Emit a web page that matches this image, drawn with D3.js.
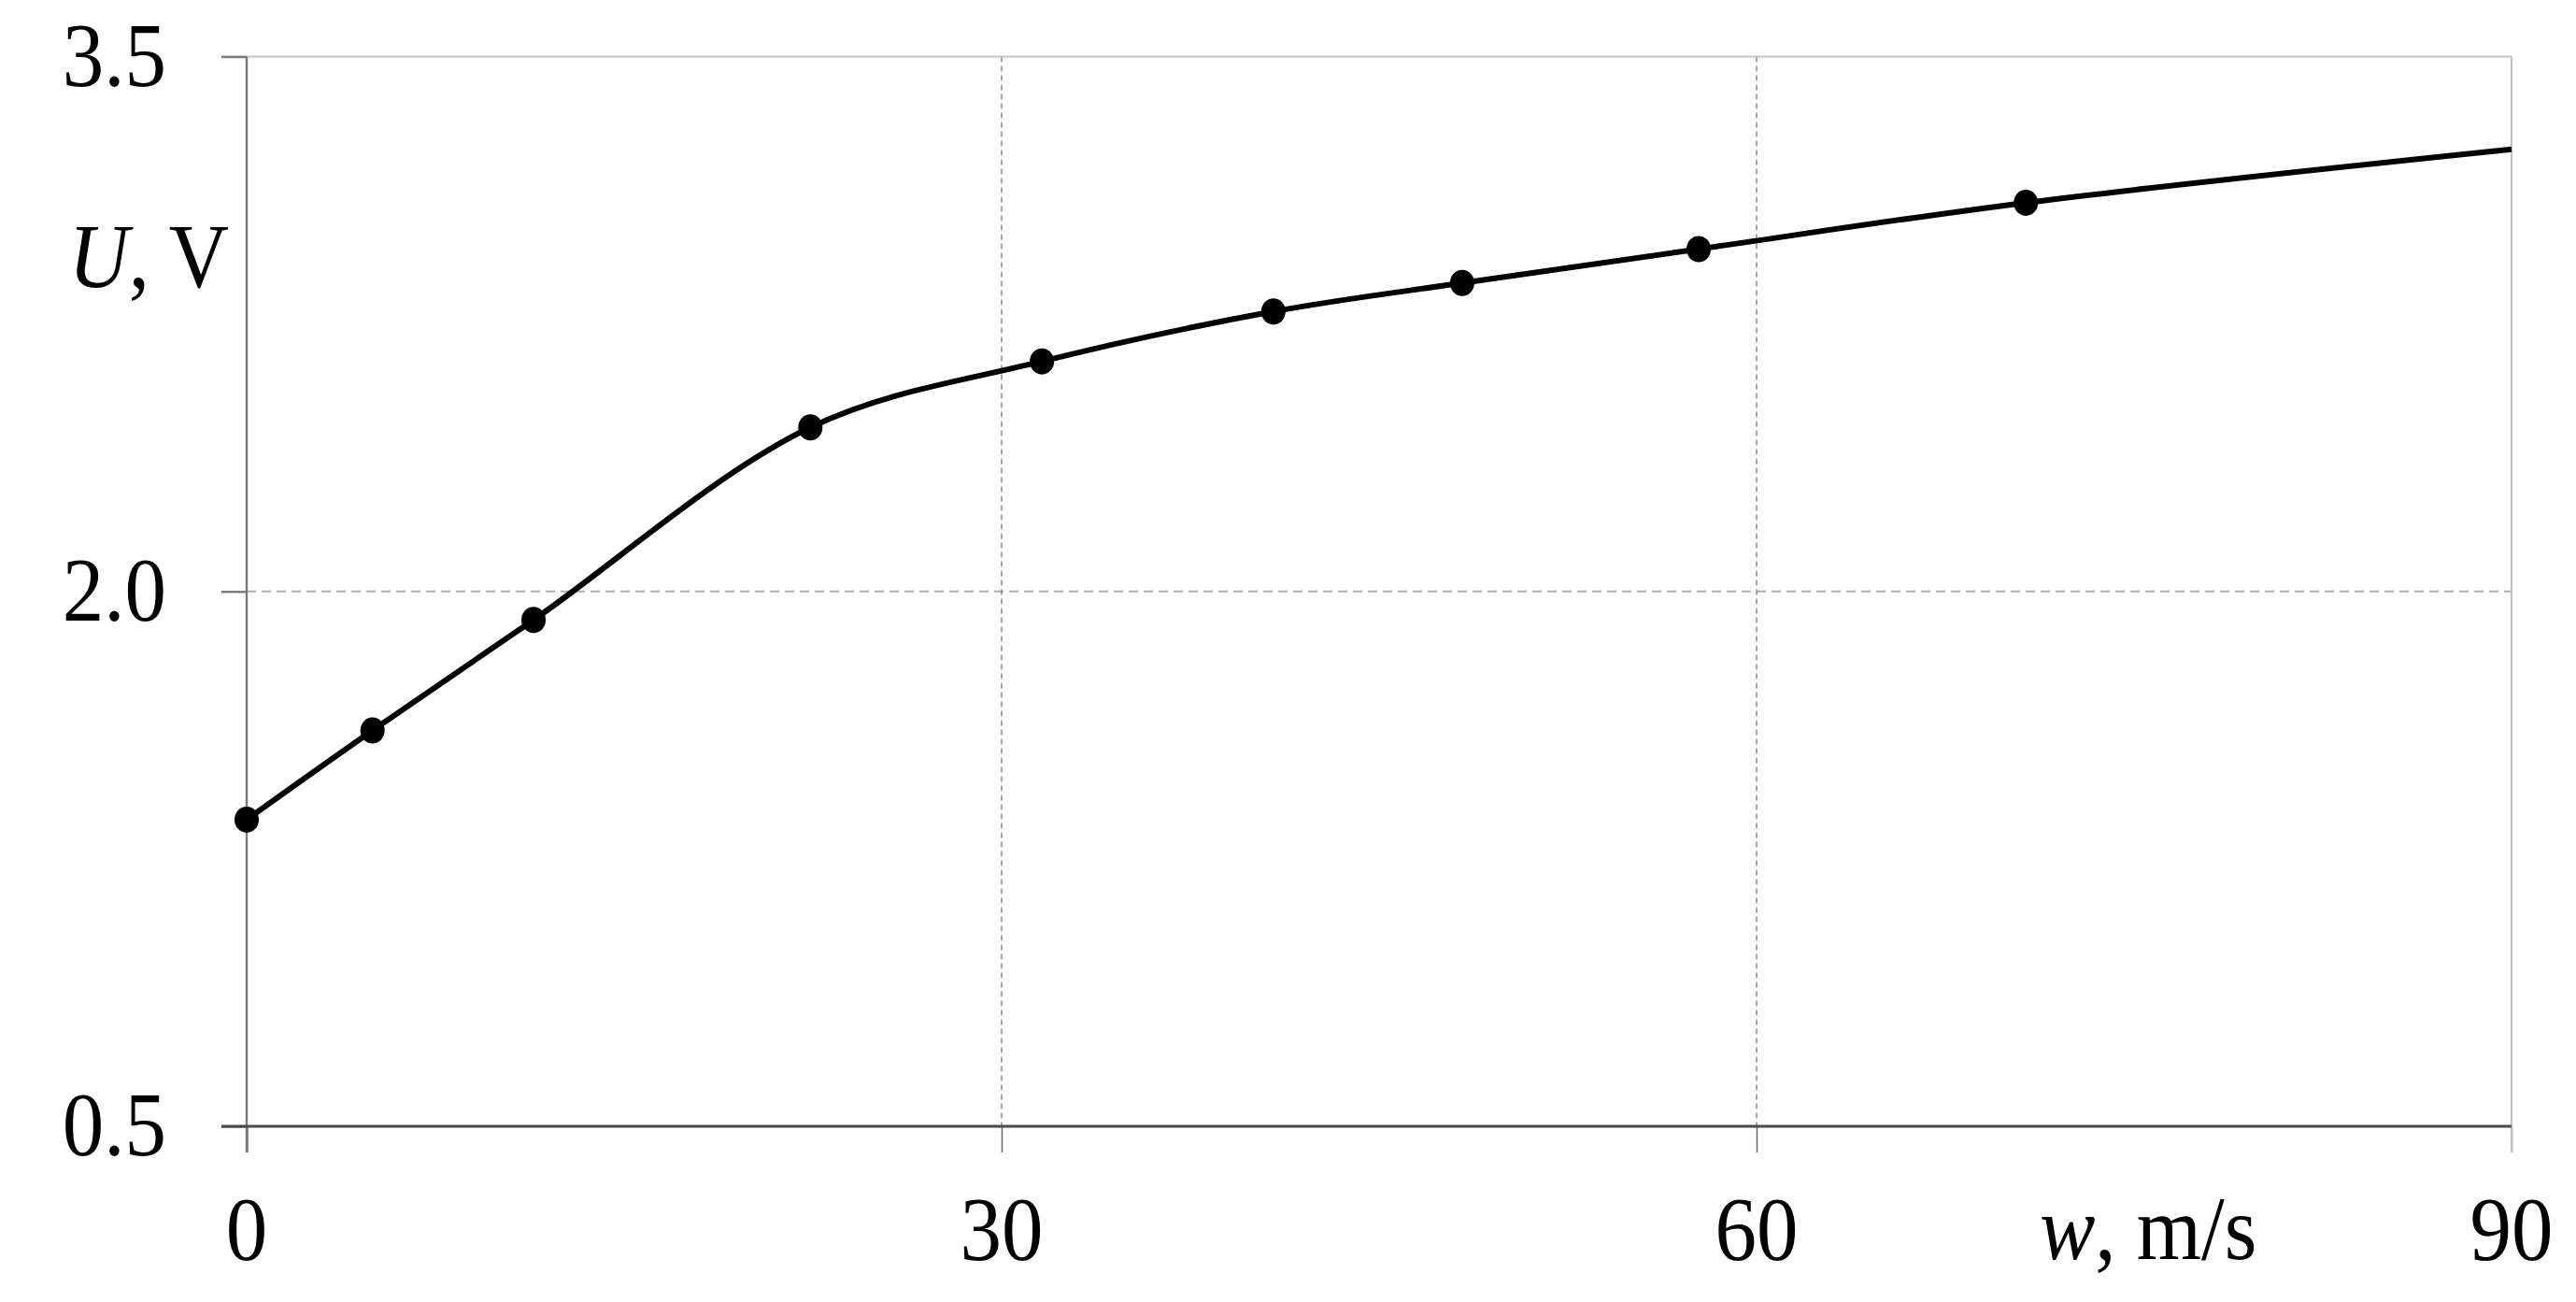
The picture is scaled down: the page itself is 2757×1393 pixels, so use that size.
<!DOCTYPE html>
<html>
<head>
<meta charset="utf-8">
<script src="https://cdn.jsdelivr.net/npm/d3@7/dist/d3.min.js"></script>
<style>
  html, body { margin: 0; padding: 0; background: #ffffff; }
  svg { display: block; }
</style>
</head>
<body>
<div id="chart"></div>
<script>
// ---- data ----
const speedTicks = [0, 30, 60, 90];
const speedTickLabels = ["0", "30", "60", "90"];
const voltageTicks = [0.5, 2.0, 3.5];
const voltageTickLabels = ["0.5", "2.0", "3.5"];
const measuredSpeed = [0, 5.0, 11.4, 22.4, 31.6, 40.8, 48.3, 57.7, 70.7];
const measuredVoltage = [1.36, 1.61, 1.92, 2.46, 2.645, 2.785, 2.865, 2.96, 3.09];
const curveEndSpeed = [90];
const curveEndVoltage = [3.24];
const xAxisTitle = ["w", ", m/s"];
const yAxisTitle = ["U", ", V"];

// ---- layout ----
const W = 2757, H = 1393;
const svg = d3.select("#chart").append("svg").attr("width", W).attr("height", H);
svg.append("rect").attr("width", W).attr("height", H).attr("fill", "#fff");

const x = d3.scaleLinear().domain([0, 90]).range([264, 2688]);
const y = d3.scaleLinear().domain([0.5, 3.5]).range([1205, 60.5]);
const FONT = "'Liberation Serif', 'Times New Roman', serif";
const FS = 89, SY = 1.1;

// gridlines
svg.append("g").selectAll("line").data(voltageTicks.filter(v => v > 0.5 && v < 3.5)).join("line")
  .attr("x1", x(0)).attr("x2", x(90)).attr("y1", d => y(d)).attr("y2", d => y(d))
  .attr("stroke", "#b0b0b0").attr("stroke-width", 1.8).attr("stroke-dasharray", "10,6");
svg.append("g").selectAll("line").data(speedTicks.filter(v => v > 0 && v < 90)).join("line")
  .attr("x1", d => x(d)).attr("x2", d => x(d)).attr("y1", y(3.5)).attr("y2", y(0.5))
  .attr("stroke", "#7a7a7a").attr("stroke-width", 1.3).attr("stroke-dasharray", "6,4");

// frame: top & right light
svg.append("line").attr("x1", 237).attr("x2", x(90)).attr("y1", y(3.5)).attr("y2", y(3.5))
  .attr("stroke", "#c4c4c4").attr("stroke-width", 2.2);
svg.append("line").attr("x1", x(90)).attr("x2", x(90)).attr("y1", y(3.5)).attr("y2", y(0.5) + 28)
  .attr("stroke", "#c4c4c4").attr("stroke-width", 2.2);

// y axis ticks via d3 axis
const yAxis = d3.axisLeft(y).tickValues(voltageTicks).tickSize(27).tickSizeOuter(0).tickFormat("");
const gy = svg.append("g").attr("transform", `translate(${x(0)},0)`).call(yAxis);
gy.select(".domain").remove();
gy.selectAll(".tick line").attr("stroke", "#7a7a7a").attr("stroke-width", 2.4);

// x axis ticks via d3 axis
const xAxis = d3.axisBottom(x).tickValues(speedTicks).tickSize(28).tickSizeOuter(0).tickFormat("");
const gx = svg.append("g").attr("transform", `translate(0,${y(0.5)})`).call(xAxis);
gx.select(".domain").remove();
gx.selectAll(".tick line").attr("stroke", (d) => d === 90 ? "#c4c4c4" : "#6a6a6a")
  .attr("stroke-width", d => (d === 0 ? 2.4 : (d === 90 ? 2.2 : 1.5)));

// left axis line
svg.append("line").attr("x1", x(0)).attr("x2", x(0)).attr("y1", y(3.5)).attr("y2", y(0.5) + 28)
  .attr("stroke", "#7a7a7a").attr("stroke-width", 2.4);
// bottom axis line
svg.append("line").attr("x1", 237).attr("x2", x(90)).attr("y1", y(0.5)).attr("y2", y(0.5))
  .attr("stroke", "#4a4a4a").attr("stroke-width", 3.2);

// curve
const curveData = measuredSpeed.map((s, i) => [s, measuredVoltage[i]])
  .concat(curveEndSpeed.map((s, i) => [s, curveEndVoltage[i]]));
const line = d3.line().x(d => x(d[0])).y(d => y(d[1])).curve(d3.curveCatmullRom.alpha(0.5));
svg.append("path").datum(curveData).attr("d", line)
  .attr("fill", "none").attr("stroke", "#000").attr("stroke-width", 6).attr("stroke-linejoin", "round");

// markers
svg.append("g").selectAll("ellipse").data(measuredSpeed.map((s, i) => [s, measuredVoltage[i]])).join("ellipse")
  .attr("cx", d => x(d[0])).attr("cy", d => y(d[1])).attr("rx", 13).attr("ry", 14).attr("fill", "#000");

// tick labels
function stretchedText(g, px, py, anchor) {
  return g.append("text")
    .attr("transform", `translate(${px},${py}) scale(1,${SY})`)
    .attr("text-anchor", anchor)
    .attr("font-family", FONT).attr("font-size", FS).attr("fill", "#000");
}
const labels = svg.append("g");
voltageTicks.forEach((v, i) => {
  stretchedText(labels, 178, y(v) + 31, "end").text(voltageTickLabels[i]);
});
speedTicks.forEach((s, i) => {
  stretchedText(labels, x(s), y(0.5) + 143, "middle").text(speedTickLabels[i]);
});

// axis titles
const yt = stretchedText(labels, 245, 307, "end");
yt.append("tspan").attr("font-style", "italic").text(yAxisTitle[0]);
yt.append("tspan").text(yAxisTitle[1]);
const xt = stretchedText(labels, 2183, 1347, "start");
xt.append("tspan").attr("font-style", "italic").text(xAxisTitle[0]);
xt.append("tspan").text(xAxisTitle[1]);
</script>
</body>
</html>
